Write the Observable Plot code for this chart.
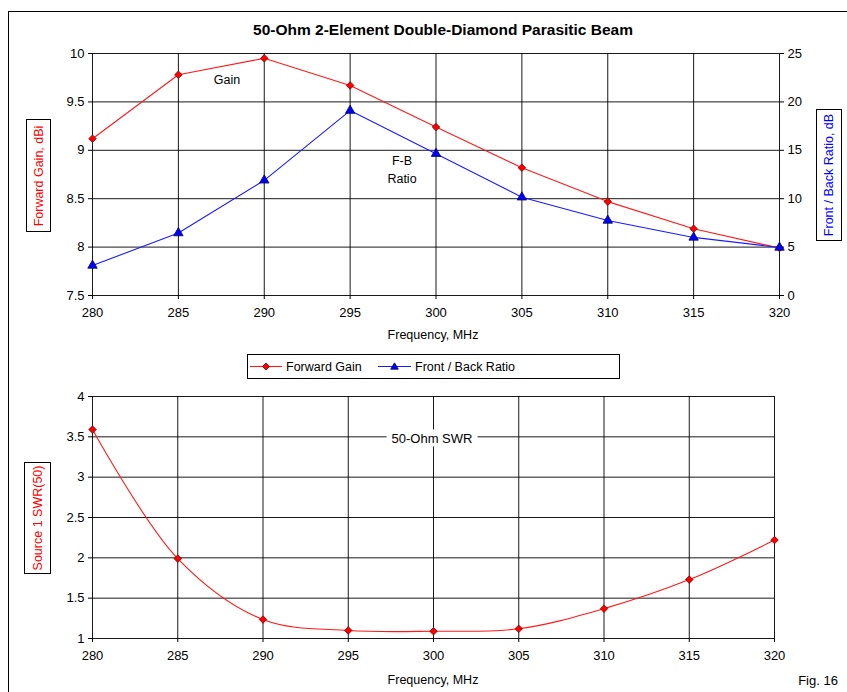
<!DOCTYPE html>
<html>
<head>
<meta charset="utf-8">
<script src="https://cdn.jsdelivr.net/npm/d3@7"></script>
<script src="https://cdn.jsdelivr.net/npm/@observablehq/plot@0.6"></script>
<style>
  html, body { margin: 0; padding: 0; background: #fff; }
  #wrap { position: relative; width: 847px; height: 692px; overflow: hidden; background: #fff;
          font-family: "Liberation Sans", Arial, sans-serif; color: #000; }
  .abs { position: absolute; }
  .c { transform: translate(-50%, -50%); white-space: nowrap; }
  .plotbox { position: absolute; left: 0; }
  .vbox { position: absolute; border: 1px solid #000; background: #fff; box-sizing: border-box; }
  .vbox span { position: absolute; left: 50%; top: 50%; transform: translate(-50%, -50%) rotate(-90deg);
               white-space: nowrap; font-size: 12.5px; }
</style>
</head>
<body>
<div id="wrap"></div>
<script>
// ---------- data ----------
const freq    = [280, 285, 290, 295, 300, 305, 310, 315, 320];
const gain    = [9.12, 9.78, 9.95, 9.67, 9.24, 8.82, 8.47, 8.19, 7.99];
const fbRatio = [3.1, 6.45, 11.9, 19.1, 14.65, 10.15, 7.75, 6.0, 4.96];
const swr     = [3.59, 1.99, 1.235, 1.1, 1.09, 1.12, 1.37, 1.73, 2.22];

const freqTicks = [280, 285, 290, 295, 300, 305, 310, 315, 320];
const gainTicks = [7.5, 8, 8.5, 9, 9.5, 10];
const fbTicks   = [0, 5, 10, 15, 20, 25];
const swrTicks  = [1, 1.5, 2, 2.5, 3, 3.5, 4];

const rows = freq.map((f, i) => ({f, gain: gain[i], fb: fbRatio[i], swr: swr[i]}));

const FONT = '"Liberation Sans", Arial, sans-serif';
const GRID = {stroke: "#000", strokeOpacity: 0.9, strokeWidth: 1};
const fmt = d => String(d);
const baseStyle = {fontSize: "13px", fontFamily: FONT, background: "transparent", overflow: "visible", color: "#000"};

const wrap = document.getElementById("wrap");

function place(el, top) {
  const d = document.createElement("div");
  d.className = "plotbox";
  d.style.top = top + "px";
  d.appendChild(el);
  wrap.appendChild(d);
}

// ---------- top panel: gain (left axis) ----------
const topGain = Plot.plot({
  width: 847, height: 340,
  marginLeft: 92, marginRight: 68, marginTop: 53, marginBottom: 45,
  style: baseStyle,
  x: {domain: [280, 320]},
  y: {domain: [7.5, 10]},
  marks: [
    Plot.gridX(freqTicks, GRID),
    Plot.gridY(gainTicks, GRID),
    Plot.axisX(freqTicks, {tickSize: 4, tickPadding: 8, label: null, tickFormat: fmt}),
    Plot.axisY(gainTicks, {tickSize: 4, tickPadding: 4, label: null, tickFormat: fmt}),
    Plot.line(rows, {x: "f", y: "gain", stroke: "#ff1a1a", strokeWidth: 1.1}),
    Plot.dot(rows, {x: "f", y: "gain", symbol: "diamond2", r: 3.4, fill: "#ff0000", stroke: "#800000", strokeWidth: 0.8})
  ]
});
place(topGain, 0);

// ---------- top panel: F/B ratio (right axis) overlay ----------
const topFB = Plot.plot({
  width: 847, height: 340,
  marginLeft: 92, marginRight: 68, marginTop: 53, marginBottom: 45,
  style: baseStyle,
  x: {domain: [280, 320], axis: null},
  y: {domain: [0, 25]},
  marks: [
    Plot.axisY(fbTicks, {anchor: "right", tickSize: 4, tickPadding: 4, label: null, tickFormat: fmt}),
    Plot.line(rows, {x: "f", y: "fb", stroke: "#1a1aff", strokeWidth: 1.1}),
    Plot.dot(rows, {x: "f", y: "fb", symbol: "triangle", r: 3.5, fill: "#0000ff", stroke: "#000060", strokeWidth: 0.8})
  ]
});
place(topFB, 0);

// ---------- bottom panel: SWR ----------
const bottom = Plot.plot({
  width: 847, height: 342,
  marginLeft: 92, marginRight: 73, marginTop: 46, marginBottom: 54,
  style: baseStyle,
  x: {domain: [280, 320]},
  y: {domain: [1, 4]},
  marks: [
    Plot.gridX(freqTicks, GRID),
    Plot.gridY(swrTicks, GRID),
    Plot.axisX(freqTicks, {tickSize: 4, tickPadding: 8, label: null, tickFormat: fmt}),
    Plot.axisY(swrTicks, {tickSize: 4, tickPadding: 4, label: null, tickFormat: fmt}),
    Plot.line(rows, {x: "f", y: "swr", stroke: "#ff1a1a", strokeWidth: 1.1, curve: "catmull-rom"}),
    Plot.dot(rows, {x: "f", y: "swr", symbol: "diamond2", r: 3.4, fill: "#ff0000", stroke: "#800000", strokeWidth: 0.8})
  ]
});
place(bottom, 350);

// ---------- HTML text & boxes ----------
function text(str, x, y, css) {
  const d = document.createElement("div");
  d.className = "abs c";
  d.textContent = str;
  d.style.left = x + "px";
  d.style.top = y + "px";
  Object.assign(d.style, css || {});
  wrap.appendChild(d);
  return d;
}
function vbox(str, cx, cy, w, h, color) {
  const d = document.createElement("div");
  d.className = "vbox";
  d.style.left = (cx - w / 2) + "px";
  d.style.top = (cy - h / 2) + "px";
  d.style.width = w + "px";
  d.style.height = h + "px";
  const s = document.createElement("span");
  s.textContent = str;
  s.style.color = color;
  d.appendChild(s);
  wrap.appendChild(d);
}

// outer frame
const frame = document.createElement("div");
frame.className = "abs";
Object.assign(frame.style, {left: "8px", top: "11px", width: "900px", height: "800px", border: "1px solid #000", pointerEvents: "none"});
wrap.appendChild(frame);

text("50-Ohm 2-Element Double-Diamond Parasitic Beam", 443, 30,
  {fontFamily: '"Liberation Sans Narrow", "Arial Narrow", "Liberation Sans", Arial, sans-serif', fontWeight: "bold", fontSize: "15.5px", fontStretch: "condensed"});

text("Frequency, MHz", 433, 335, {fontSize: "12.5px"});
text("Frequency, MHz", 433, 680, {fontSize: "12.5px"});
text("Fig. 16", 818, 680, {fontSize: "13px"});

text("Gain", 227, 80, {fontSize: "12.5px"});
text("F-B", 402, 161, {fontSize: "12.5px"});
text("Ratio", 402, 179, {fontSize: "12.5px"});
text("50-Ohm SWR", 432, 438, {fontSize: "13px", background: "#fff", padding: "1px 5px"});

vbox("Forward Gain,  dBi", 38.5, 175.5, 25, 113, "#ff0000");
vbox("Front / Back Ratio,  dB", 829, 175, 26, 132, "#0000ff");
vbox("Source 1 SWR(50)", 37.5, 518, 27, 112, "#ff0000");

// legend
const leg = document.createElement("div");
leg.className = "abs";
Object.assign(leg.style, {left: "247px", top: "354px", width: "373px", height: "25px", border: "1px solid #000", boxSizing: "border-box", background: "#fff"});
leg.innerHTML = `
<svg width="373" height="25" style="position:absolute;left:-1px;top:-1px;overflow:visible">
  <line x1="3" x2="35" y1="12.5" y2="12.5" stroke="#ff1a1a" stroke-width="1.1"/>
  <path d="M19,9 L22.5,12.5 L19,16 L15.5,12.5 Z" fill="#ff0000" stroke="#800000" stroke-width="0.8"/>
  <text x="39" y="17" font-size="12.5" font-family='${FONT}'>Forward Gain</text>
  <line x1="131" x2="164" y1="12.5" y2="12.5" stroke="#1a1aff" stroke-width="1.1"/>
  <path d="M147.5,8.8 L151.3,15.2 L143.7,15.2 Z" fill="#0000ff" stroke="#000060" stroke-width="0.8"/>
  <text x="168" y="17" font-size="12.5" font-family='${FONT}'>Front / Back Ratio</text>
</svg>`;
wrap.appendChild(leg);
</script>
</body>
</html>
